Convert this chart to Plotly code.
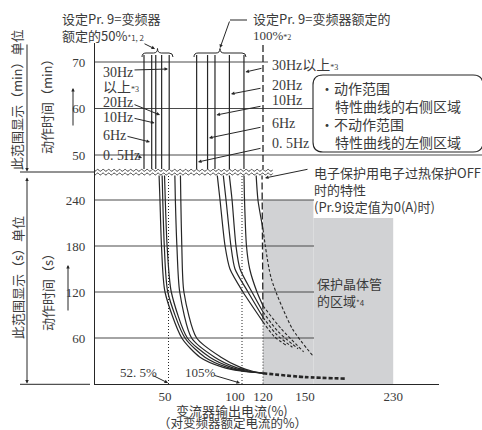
import math
import plotly.graph_objects as go

# ---- values ----
freq_names = ["0. 5Hz", "6Hz", "10Hz", "20Hz", "30Hz"]

# upper band (action time, min): curves are practically vertical here, current in %
top_50 = [35.0, 40.5, 43.4, 47.6, 53.0]      # Pr.9 = 50 %, 0.5/6/10/20/30Hz
top_100 = [72.6, 80.4, 85.7, 96.0, 106.4]    # Pr.9 = 100 %
top_min = [46.3, 71.5]

# lower band (action time, s), Pr.9 = 50 %
t_50 = [276, 240, 180, 120, 60, 35, 22, 17, 14]
i50_05 = [45.7, 46.4, 47.5, 50.0, 62.0, 75.0, 91.0, 104.0, 120]
i50_6 = [47.9, 48.4, 49.5, 52.0, 64.3, 78.5, 94.0, 106.0, 120]
i50_10 = [49.6, 50.2, 51.5, 54.5, 66.0, 82.0, 97.0, 108.0, 120]
i50_20 = [57.0, 57.4, 58.5, 60.5, 69.0, 85.5, 100.0, 110.0, 120]
i50_30 = [61.0, 61.3, 62.0, 63.5, 72.6, 90.0, 103.5, 112.0, 120]

# lower band, Pr.9 = 100 % (solid part up to 120 %)
t_100 = [276, 240, 180, 150, 120]
i100_05 = [87.1, 89.3, 92.9, 96.4, 105.7]
i100_6 = [91.4, 93.6, 97.1, 100.0, 109.3]
i100_10 = [95.7, 97.9, 100.7, 103.6, 112.1]
i100_20 = [106.4, 106.8, 108.2, 110.5, 115.7]
t100_at120 = [81, 87, 94, 102]
t100_30 = [276, 240, 202]
i100_30 = [115.0, 116.4, 120]

# dashed continuation inside the transistor protection area
dash_i = [[120, 128, 137], [120, 130, 141], [120, 131, 145], [120, 133, 149], [120, 126, 141, 156]]
dash_t = [[81, 62, 50], [87, 64, 48], [94, 68, 46], [102, 72, 42], [202, 137, 72, 36]]

# thermal OFF characteristic
off_t = [276, 80]
trans_i = [120, 150, 179]
trans_t = [14, 9, 7]

limit_pct = 120
ref_pct = [52.5, 105]
area_pct = [120, 213]
area_s = 240

grid_min = [50, 60, 70]
grid_s = [60, 120, 180, 240]
x_ticks = [50, 100, 120, 150, 213]
x_ticktext = ["50", "100", "120", "150", "230"]

# ---- frame (pixel calibration of the reference) ----
L, R, T, B = 95, 439, 43, 384
BRK = 172
XMAX = (R - L) / 1.4
D0 = (B - BRK) / (B - T)
SMAX = (B - BRK) / 46 * 60
MLO = 50 - (BRK - 155) / 4.65
MHI = 70 + (62 - T) / 4.65

ink = "#262626"
txt = "#3a3a3a"
CJK = "Noto Sans CJK SC"
SERIF = "Liberation Serif, Noto Sans CJK SC"


def px(x):
    return (x - L) / (R - L)


def py(y):
    return (B - y) / (B - T)


def xv(v):
    return v / XMAX


def ys(v):
    return v / SMAX * D0


def ym(v):
    return D0 + (v - MLO) / (MHI - MLO) * (1 - D0)


def P(x, y):
    return f"{px(x):.5f},{py(y):.5f}"


fig = go.Figure()


def curve(x, y, axis="y", dash="solid", width=1.2, shape="spline"):
    fig.add_trace(go.Scatter(
        x=x, y=y, yaxis=axis, mode="lines",
        line=dict(color=ink, width=width, dash=dash, shape=shape, smoothing=0.7),
        hoverinfo="skip", showlegend=False))


for v in top_50 + top_100:
    curve([v, v], top_min, "y2", shape="linear")

for ii in [i50_05, i50_6, i50_10, i50_20, i50_30]:
    curve(ii, t_50)

for ii, te in zip([i100_05, i100_6, i100_10, i100_20], t100_at120):
    curve(ii + [limit_pct], t_100 + [te])
curve(i100_30, t100_30)

for ii, tt in zip(dash_i, dash_t):
    curve(ii, tt, dash="3px,2px", width=1.1)

curve([limit_pct, limit_pct], [MLO, MHI], "y2", dash="7px,3px", width=1.3, shape="linear")
curve([limit_pct - 0.7, limit_pct], off_t, dash="7px,3px", width=1.3, shape="linear")
curve([limit_pct, limit_pct], [off_t[1], 0], dash="1px,2px", width=1, shape="linear")
for v in ref_pct:
    curve([v, v], [0, SMAX], dash="1px,2px", width=1, shape="linear")
curve(trans_i, trans_t, dash="4px,2px", width=2.6)

shapes = []
# transistor protection area (upper right part left white for the note)
shapes.append(dict(type="rect", xref="paper", yref="paper", layer="below",
                   x0=xv(area_pct[0]), x1=xv(156), y0=ys(0), y1=ys(area_s),
                   fillcolor="#d1d2d4", line=dict(width=0)))
shapes.append(dict(type="rect", xref="paper", yref="paper", layer="below",
                   x0=xv(156), x1=xv(area_pct[1]), y0=ys(0), y1=ys(216.5),
                   fillcolor="#d1d2d4", line=dict(width=0)))

# grid lines with their own lengths
grid_end_min = {70: 268, 60: 313, 50: 484}
for v in grid_min:
    shapes.append(dict(type="line", xref="paper", yref="paper", layer="below",
                       x0=0, x1=px(grid_end_min[v]), y0=ym(v), y1=ym(v),
                       line=dict(color="#4a4a4a", width=1.2)))
for v in grid_s:
    shapes.append(dict(type="line", xref="paper", yref="paper", layer="below",
                       x0=0, x1=px(314), y0=ys(v), y1=ys(v),
                       line=dict(color="#4a4a4a", width=1.2)))

# break between the two bands
shapes.append(dict(type="rect", xref="paper", yref="paper", layer="above",
                   x0=px(96), x1=px(273), y0=py(175.5), y1=py(169),
                   fillcolor="white", line=dict(width=0)))
for y0 in (170.3, 174.0):
    pts = []
    x = 95.0
    while x <= 273:
        pts.append(P(x, y0 + 0.9 * math.sin(x * 2 * math.pi / 5.5)))
        x += 0.5
    shapes.append(dict(type="path", xref="paper", yref="paper", layer="above",
                       path="M " + " L ".join(pts), line=dict(color=ink, width=0.9)))

# dimension lines on the left
for (x0, y0, x1, y1) in [(20, 172, 95, 172), (20, 384.3, 90, 384.3)]:
    shapes.append(dict(type="line", xref="paper", yref="paper",
                       x0=px(x0), x1=px(x1), y0=py(y0), y1=py(y1),
                       line=dict(color=ink, width=1)))

# braces above the two groups
for a, m, b in [(142, 157.5, 173), (194, 220, 246)]:
    path = ("M " + P(a, 57) + " Q " + P(a, 53) + " " + P(a + 4, 53) + " L " + P(m - 4, 53)
            + " Q " + P(m, 53) + " " + P(m, 48.5) + " Q " + P(m, 53) + " " + P(m + 4, 53)
            + " L " + P(b - 4, 53) + " Q " + P(b, 53) + " " + P(b, 57))
    shapes.append(dict(type="path", xref="paper", yref="paper", path=path,
                       line=dict(color=ink, width=1)))
shapes.append(dict(type="line", xref="paper", yref="paper",
                   x0=px(230), x1=px(247), y0=py(20), y1=py(20), line=dict(color=ink, width=1)))

# rounded note box
x0, x1, y0, y1, r = 313, 483, 75, 152, 10
path = ("M " + P(x0 + r, y0) + " L " + P(x1 - r, y0) + " Q " + P(x1, y0) + " " + P(x1, y0 + r)
        + " L " + P(x1, y1 - r) + " Q " + P(x1, y1) + " " + P(x1 - r, y1)
        + " L " + P(x0 + r, y1) + " Q " + P(x0, y1) + " " + P(x0, y1 - r)
        + " L " + P(x0, y0 + r) + " Q " + P(x0, y0) + " " + P(x0 + r, y0) + " Z")
shapes.append(dict(type="path", xref="paper", yref="paper", path=path,
                   line=dict(color=ink, width=1.1), fillcolor="white"))

ann = []


def text(x, y, s, size=13, family=CJK, anchor="left", angle=0):
    ann.append(dict(x=px(x), y=py(y), xref="paper", yref="paper", text=s, showarrow=False,
                    xanchor=anchor, yanchor="middle", textangle=angle, align="left",
                    font=dict(family=family, size=size, color=txt)))


def arrow(tx, ty, hx, hy, side="end", size=0.7):
    ann.append(dict(x=px(hx), y=py(hy), xref="paper", yref="paper", text="", showarrow=True,
                    ax=tx - hx, ay=ty - hy, arrowhead=2, arrowsize=size, arrowwidth=1,
                    arrowside=side, arrowcolor=ink, standoff=0, startstandoff=0))


small = "<span style='font-size:8px'>%s</span>"

text(60, 18, "设定Pr. 9=变频器")
text(60, 35, "额定的50%" + small % "*1, 2")
arrow(143, 43, 155, 49)
text(251, 18, "设定Pr. 9=变频器额定的")
text(251, 35, "100%" + small % "*2", family=SERIF)
arrow(230, 20, 220, 48)

# frequency labels, Pr.9 = 50 %
left_y = [155, 135, 117, 103, 72]
left_tail = [(137, 156), (126, 136), (133, 118), (133, 104), (133, 70)]
left_head = [(142, 158), (150, 142), (154.5, 123), (160, 115), (168, 69)]
for name, y, tl, hd in zip(freq_names, left_y, left_tail, left_head):
    text(101, y, name, size=14, family=SERIF)
    arrow(tl[0], tl[1], hd[0], hd[1])
text(101, 87, "以上" + small % "*3", size=14, family=SERIF)

# frequency labels, Pr.9 = 100 %
right_y = [143, 123, 101, 85, 65]
right_tail = [(262, 148), (262, 127), (262, 106), (262, 88), (263, 68)]
right_head = [(198, 162), (209, 138), (216.5, 115), (231, 94), (245.5, 72)]
for name, y, tl, hd in zip(freq_names, right_y, right_tail, right_head):
    lab = name + ("以上" + small % "*3" if name == "30Hz" else "")
    text(270, y, lab, size=14, family=SERIF)
    arrow(tl[0], tl[1], hd[0], hd[1])

text(318, 88, "•动作范围", size=14)
text(333, 106, "特性曲线的右侧区域", size=14)
text(318, 124, "•不动作范围", size=14)
text(333, 142, "特性曲线的左侧区域", size=14)

text(312, 190, "电子保护用电子过热保护OFF<br>时的特性<br>(Pr.9设定值为0(A)时)")
arrow(309, 169, 265, 178)

text(315, 292, "保护晶体管<br>的区域" + small % "*4")

text(118, 372, "52. 5%", family=SERIF)
arrow(152, 375, 168, 383)
text(183, 372, "105%", family=SERIF)
arrow(213, 375, 240, 383)

text(232, 410.5, "变流器输出电流(%)", anchor="center")
text(232, 423, "（对变频器额定电流的%）", size=12.5, anchor="center")

text(17, 100, "此范围显示（min）单位", anchor="center", angle=-90)
text(17, 278, "此范围显示（s）单位", anchor="center", angle=-90)
text(47, 103, "动作时间（min）", anchor="center", angle=-90)
text(47, 289, "动作时间（s）", anchor="center", angle=-90)
arrow(73, 127, 73, 88)
arrow(68, 312, 68, 265)
arrow(27, 43, 27, 171.5)
arrow(27, 176, 27, 383.5, side="end+start")

axis_common = dict(showline=True, linecolor=ink, linewidth=1.2, showgrid=False,
                   zeroline=False, ticks="", fixedrange=True,
                   tickfont=dict(family="Liberation Serif", size=13, color=txt))

fig.update_layout(
    width=482, height=430,
    margin=dict(l=L, r=482 - R, t=T, b=430 - B),
    paper_bgcolor="white", plot_bgcolor="rgba(0,0,0,0)",
    showlegend=False,
    xaxis=dict(range=[0, XMAX], tickvals=x_ticks, ticktext=x_ticktext,
               anchor="y", ticklabelstandoff=0, **axis_common),
    yaxis=dict(domain=[0, D0], range=[0, SMAX], tickvals=grid_s,
               anchor="x", ticklabelstandoff=6, **axis_common),
    yaxis2=dict(domain=[D0, 1], range=[MLO, MHI], tickvals=grid_min,
                anchor="x", ticklabelstandoff=6, **axis_common),
    shapes=shapes,
    annotations=ann,
)

# the page body carries a default 8px margin; drop it so the figure sits at 0,0
fig.write_html("out.html", config=dict(displayModeBar=False),
               post_script="document.body.style.margin='0';")
